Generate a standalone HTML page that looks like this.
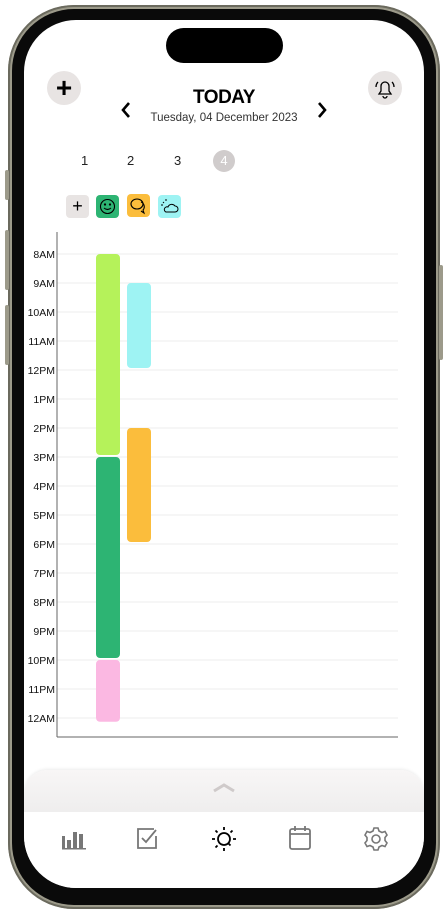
<!DOCTYPE html>
<html><head><meta charset="utf-8"><style>
*{margin:0;padding:0;box-sizing:border-box}
body{width:448px;height:913px;background:#fff;position:relative;overflow:hidden;font-family:"Liberation Sans",sans-serif}
.abs{position:absolute}
</style></head><body>
<div class="abs" style="left:8px;top:5px;width:432px;height:904px;border-radius:66px;background:#9c9a8a;box-shadow:inset 0 0 0 2px #6b6a5e"></div>
<div class="abs" style="left:12px;top:9px;width:424px;height:896px;border-radius:62px;background:#0a0a0a"></div>
<div class="abs" style="left:5px;top:170px;width:4px;height:30px;background:#9c9a8a;border-radius:2px"></div>
<div class="abs" style="left:5px;top:230px;width:4px;height:60px;background:#9c9a8a;border-radius:2px"></div>
<div class="abs" style="left:5px;top:305px;width:4px;height:60px;background:#9c9a8a;border-radius:2px"></div>
<div class="abs" style="left:439px;top:265px;width:4px;height:95px;background:#9c9a8a;border-radius:2px"></div>
<div class="abs" style="left:24px;top:20px;width:400px;height:868px;border-radius:52px;background:#fff;overflow:hidden">
  <div class="abs" style="left:142px;top:8px;width:117px;height:35px;border-radius:18px;background:#000"></div>
  <div class="abs" style="left:23px;top:51px;width:34px;height:34px;border-radius:17px;background:#e8e4e3;font-size:28px;line-height:33px;text-align:center;font-weight:bold">+</div>
  <div class="abs" style="left:344px;top:51px;width:34px;height:34px;border-radius:17px;background:#e8e4e3">
    <svg width="34" height="34" viewBox="0 0 34 34" fill="none" stroke="#000" stroke-width="1.3"><path d="M11 23h12l-2-3v-5a4 4 0 0 0-8 0v5z"/><path d="M15 25a2 2 0 0 0 4 0"/><path d="M10 11q-2 2-2 5M24 11q2 2 2 5"/></svg></div>
  <div class="abs" style="left:100px;top:67px;width:200px;text-align:center;font-size:19px;font-weight:bold;letter-spacing:-0.5px">TODAY</div>
  <div class="abs" style="left:100px;top:92px;width:200px;text-align:center;font-size:11.5px;color:#333">Tuesday, 04 December 2023</div>
  <svg class="abs" style="left:96px;top:81px" width="12" height="18"><path d="M9 2L3 9l6 7" stroke="#000" stroke-width="2.6" fill="none"/></svg>
  <svg class="abs" style="left:292px;top:81px" width="12" height="18"><path d="M3 2l6 7-6 7" stroke="#000" stroke-width="2.6" fill="none"/></svg>
  <div class="abs" style="left:57px;top:133px;font-size:13px;color:#222">1</div>
  <div class="abs" style="left:103px;top:133px;font-size:13px;color:#222">2</div>
  <div class="abs" style="left:150px;top:133px;font-size:13px;color:#222">3</div>
  <div class="abs" style="left:189px;top:130px;width:22px;height:22px;border-radius:11px;background:#d0cccc;color:#fff;font-size:13px;line-height:22px;text-align:center">4</div>
  <div class="abs" style="left:42px;top:175px;width:23px;height:23px;border-radius:4px;background:#e8e4e3;text-align:center;font-size:18px;line-height:23px">+</div>
  <div class="abs" style="left:72px;top:175px;width:23px;height:23px;border-radius:4px;background:#2db473"><svg width="23" height="23" fill="none" stroke="#000" stroke-width="1.1"><circle cx="11.5" cy="11.5" r="7"/><path d="M8 13q3.5 3 7 0"/><circle cx="9" cy="9.5" r="0.6" fill="#000"/><circle cx="14" cy="9.5" r="0.6" fill="#000"/></svg></div>
  <div class="abs" style="left:103px;top:174px;width:23px;height:23px;border-radius:4px;background:#fbbd3c"><svg width="23" height="23" fill="none" stroke="#000" stroke-width="1.1"><ellipse cx="10" cy="10" rx="6" ry="5"/><path d="M14 8a5 5 0 0 1 2 8l1 3-3-2"/></svg></div>
  <div class="abs" style="left:134px;top:175px;width:23px;height:23px;border-radius:4px;background:#9ef3f3"><svg width="23" height="23" fill="none" stroke="#000" stroke-width="1"><path d="M8 17h9a3 3 0 0 0 0-6a4 4 0 0 0-7 1a2.5 2.5 0 0 0-2 5z"/><path d="M5 7l1 1M8 4v2M3 10h2"/></svg></div>
  <svg class="abs" style="left:0;top:0" width="400" height="760" id="chart"></svg>
  <div class="abs" style="left:0;top:750px;width:400px;height:45px;border-radius:24px 24px 0 0;background:linear-gradient(#f8f6f6,#eeeded);box-shadow:0 -1px 3px rgba(0,0,0,0.08)">
    <svg class="abs" style="left:188px;top:13px" width="24" height="10"><path d="M2 8l10-6 10 6" stroke="#cfcaca" stroke-width="3" fill="none"/></svg></div>
  <div class="abs" style="left:0;top:792px;width:400px;height:76px;background:#fff">
    <svg class="abs" style="left:36px;top:16px" width="28" height="24"><g fill="#777"><rect x="2" y="8" width="3" height="12"/><rect x="7" y="12" width="4" height="8"/><rect x="13" y="4" width="4" height="16"/><rect x="19" y="6" width="4" height="14"/><rect x="2" y="20" width="24" height="1.5"/></g></svg>
    <svg class="abs" style="left:110px;top:14px" width="26" height="26" fill="none" stroke="#777" stroke-width="1.8"><path d="M20 3H4v19h18V10"/><path d="M8 12l4 4 10-12"/></svg>
    <svg class="abs" style="left:185px;top:12px" width="30" height="30" fill="none" stroke="#000" stroke-width="1.8"><circle cx="15" cy="15" r="6"/><path d="M15 3v3M15 24v3M3 15h3M24 15h3M6.5 6.5l2 2M21.5 21.5l-2-2M6.5 23.5l2-2M23.5 6.5l-2 2"/></svg>
    <svg class="abs" style="left:263px;top:12px" width="26" height="28" fill="none" stroke="#777" stroke-width="1.8"><rect x="3" y="5" width="20" height="20" rx="2"/><path d="M3 10h20M8 2v5M18 2v5"/></svg>
    <svg class="abs" style="left:338px;top:13px" width="28" height="28" fill="none" stroke="#777" stroke-width="1.6"><circle cx="14" cy="14" r="4"/><path d="M12 3h4l1 3 3 1.5 3-1 2 3.5-2 2.5v3l2 2.5-2 3.5-3-1-3 1.5-1 3h-4l-1-3-3-1.5-3 1-2-3.5 2-2.5v-3l-2-2.5 2-3.5 3 1 3-1.5z"/></svg>
  </div>
</div>
<script>
const hourLabels=["8AM","9AM","10AM","11AM","12PM","1PM","2PM","3PM","4PM","5PM","6PM","7PM","8PM","9PM","10PM","11PM","12AM"];
const blockColumn=[0,0,0,1,1];
const blockStart=[0,7,14,1,6];
const blockEnd=[7,14,16.2,4,10];
const blockColor=["#b5f25a","#2db473","#fbb8e2","#9ef3f3","#fbbd3c"];
const blockName=["lime-block","mood-block","pink-block","weather-block","social-block"];
const svg=document.getElementById('chart');
const NS="http://www.w3.org/2000/svg";
const y0=234, hStep=29, xAxis=33, xEnd=374;
const yScale=h=>y0+h*hStep;
const xCol=c=>72+c*31;
function mk(t,a){const e=document.createElementNS(NS,t);for(const k in a)e.setAttribute(k,a[k]);svg.appendChild(e);return e;}
hourLabels.forEach((l,i)=>{
  const g=mk('line',{x1:xAxis,x2:xEnd,y1:yScale(i),y2:yScale(i),stroke:'#ececec','stroke-width':1});
  
  
  const t=mk('text',{x:31,y:yScale(i)+4,'text-anchor':'end','font-size':10.5,fill:'#111','font-family':'Liberation Sans, sans-serif'});
  t.textContent=l;
  
  
});
const ya=mk('line',{x1:xAxis,x2:xAxis,y1:212,y2:717,stroke:'#666','stroke-width':1});


const xa=mk('line',{x1:xAxis,x2:xEnd,y1:717,y2:717,stroke:'#666','stroke-width':1});


blockStart.forEach((s,i)=>{
  const r=mk('rect',{x:xCol(blockColumn[i]),y:yScale(s),width:24,height:yScale(blockEnd[i])-yScale(s)-2,rx:4,fill:blockColor[i]});
  
  
});
</script>
</body></html>
